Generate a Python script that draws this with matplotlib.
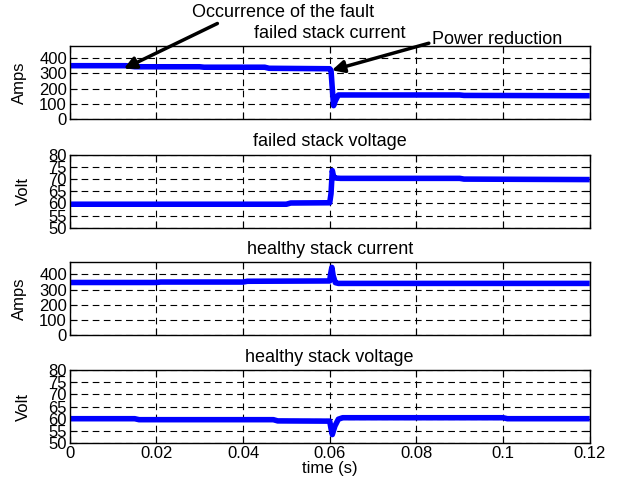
import matplotlib
matplotlib.use('Agg')
import matplotlib.pyplot as plt

# failed stack current (A)
t_fc = [0, 0.013, 0.015, 0.030, 0.031, 0.045, 0.046, 0.0600, 0.0603, 0.0606, 0.0609, 0.0613, 0.0620, 0.090, 0.091, 0.12]
i_fc = [350, 350, 343, 343, 340, 340, 333, 330, 320, 200, 88, 120, 158, 158, 155, 153]

# failed stack voltage (V)
t_fv = [0, 0.050, 0.051, 0.0600, 0.0603, 0.0606, 0.0609, 0.0615, 0.0625, 0.090, 0.091, 0.12]
v_fv = [59.7, 59.7, 60.2, 60.3, 64.0, 73.5, 71.0, 70.4, 70.3, 70.3, 70.0, 69.8]

# healthy stack current (A)
t_hc = [0, 0.020, 0.021, 0.040, 0.041, 0.0600, 0.0602, 0.0605, 0.0608, 0.0613, 0.0620, 0.12]
i_hc = [346, 346, 349, 349, 354, 356, 400, 445, 390, 345, 340, 340]

# healthy stack voltage (V)
t_hv = [0, 0.015, 0.016, 0.047, 0.048, 0.0600, 0.0603, 0.0606, 0.0612, 0.0620, 0.0630, 0.100, 0.101, 0.12]
v_hv = [60.0, 60.0, 59.6, 59.6, 59.1, 59.0, 56.0, 53.5, 57.0, 59.8, 60.4, 60.4, 60.0, 60.0]

titles = ['failed stack current', 'failed stack voltage', 'healthy stack current', 'healthy stack voltage']
ylabels = ['Amps', 'Volt', 'Amps', 'Volt']
x_ticks = [0, 0.02, 0.04, 0.06, 0.08, 0.1, 0.12]
x_ticklabels = ['0', '0.02', '0.04', '0.06', '0.08', '0.1', '0.12']
amp_ticks = [0, 100, 200, 300, 400]
volt_ticks = [50, 55, 60, 65, 70, 75, 80]

plt.rcParams['font.family'] = ['Liberation Sans', 'DejaVu Sans']

fig = plt.figure(figsize=(6.28, 4.88), dpi=100)
bottoms = [0.756, 0.533, 0.313, 0.092]
series = [(t_fc, i_fc), (t_fv, v_fv), (t_hc, i_hc), (t_hv, v_hv)]
axes = []
for k in range(4):
    ax = fig.add_axes([0.111, bottoms[k], 0.828, 0.150])
    t, y = series[k]
    ax.plot(t, y, color=(0, 0, 1), linewidth=4, solid_joinstyle='round', solid_capstyle='butt')
    ax.set_xlim(0, 0.12)
    ax.set_xticks(x_ticks)
    if k % 2 == 0:
        ax.set_ylim(0, 480)
        ax.set_yticks(amp_ticks)
        ax.yaxis.set_label_coords(-0.083, 0.5)
    else:
        ax.set_ylim(50, 80)
        ax.set_yticks(volt_ticks)
        ax.yaxis.set_label_coords(-0.075, 0.5)
    if k == 3:
        ax.set_xticklabels(x_ticklabels)
        ax.set_xlabel('time (s)', fontsize=12, labelpad=0)
    else:
        ax.set_xticklabels([])
    ax.set_title(titles[k], fontsize=13, pad=6)
    ax.set_ylabel(ylabels[k], fontsize=12)
    ax.grid(True, color='black', linestyle=(0, (6, 4)), linewidth=0.8)
    ax.tick_params(direction='in', top=True, right=True, labelsize=12, length=5, pad=2)
    for s in ax.spines.values():
        s.set_linewidth(1.0)
    axes.append(ax)

arrow = dict(arrowstyle='-|>', color='black', lw=2.5, mutation_scale=18, shrinkA=0, shrinkB=0)
axes[0].annotate('Occurrence of the fault', xy=(0.0125, 330), xytext=(0.451, 0.975),
                 textcoords='figure fraction', ha='center', va='center', fontsize=13,
                 arrowprops=dict(arrow, relpos=(0.17, 0.0)))
axes[0].annotate('Power reduction', xy=(0.0605, 320), xytext=(0.791, 0.920),
                 textcoords='figure fraction', ha='center', va='center', fontsize=13,
                 arrowprops=dict(arrow, relpos=(0.0, 0.3)))

fig.savefig('out.png', dpi=100)
